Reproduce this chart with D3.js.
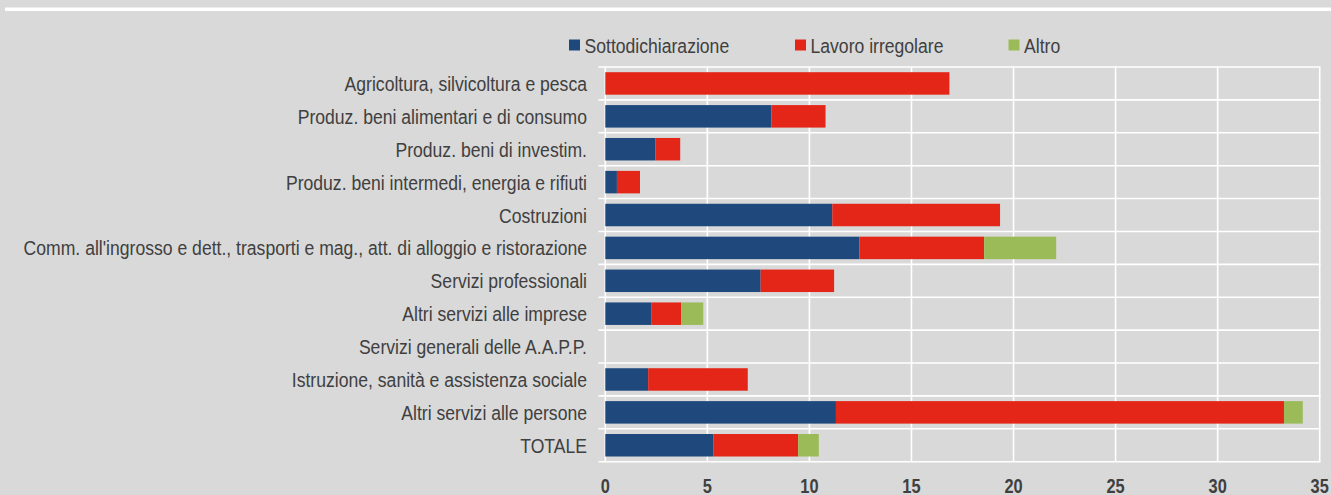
<!DOCTYPE html>
<html>
<head>
<meta charset="utf-8">
<script src="https://cdn.jsdelivr.net/npm/d3@7"></script>
<style>
  html, body { margin: 0; padding: 0; background: #d9d9d9; }
  svg { display: block; }
  text { font-family: "Liberation Sans", Arial, sans-serif; fill: #404040; }
</style>
</head>
<body>
<script>
const categories = [
  "Agricoltura, silvicoltura e pesca",
  "Produz. beni alimentari e di consumo",
  "Produz. beni di investim.",
  "Produz. beni intermedi, energia e rifiuti",
  "Costruzioni",
  "Comm. all'ingrosso e dett., trasporti e mag., att. di alloggio e ristorazione",
  "Servizi professionali",
  "Altri servizi alle imprese",
  "Servizi generali delle A.A.P.P.",
  "Istruzione, sanità e assistenza sociale",
  "Altri servizi alle persone",
  "TOTALE"
];
const seriesNames = ["Sottodichiarazione", "Lavoro irregolare", "Altro"];
const sottodichiarazione = [0, 8.14, 2.46, 0.57, 11.12, 12.45, 7.61, 2.25, 0, 2.10, 11.30, 5.29];
const lavoroIrregolare   = [16.86, 2.65, 1.21, 1.13, 8.22, 6.11, 3.60, 1.47, 0, 4.88, 21.95, 4.16];
const altro              = [0, 0, 0, 0, 0, 3.53, 0, 1.08, 0, 0, 0.92, 1.01];
const xTicks = [0, 5, 10, 15, 20, 25, 30, 35];
const colors = ["#1f497d", "#e42619", "#9bbb59"];

const W = 1331, H = 495;
const NARROW = 0.838; // emulate a narrow typeface
const svg = d3.select("body").append("svg").attr("width", W).attr("height", H);

// top white rule
svg.append("line").attr("x1", 5).attr("x2", W).attr("y1", 9.3).attr("y2", 9.3)
  .attr("stroke", "#ffffff").attr("stroke-width", 3.5);

const x = d3.scaleLinear().domain([0, 35]).range([605.3, 1319.7]);
const y = d3.scaleBand().domain(categories).range([67, 461.7]).paddingInner(0.316).paddingOuter(0.158);

const rows = categories.map((c, i) => ({ cat: c, Sottodichiarazione: sottodichiarazione[i], "Lavoro irregolare": lavoroIrregolare[i], Altro: altro[i] }));
const stacked = d3.stack().keys(seriesNames)(rows);

// vertical gridlines
svg.append("g").selectAll("line").data(xTicks).join("line")
  .attr("x1", d => x(d)).attr("x2", d => x(d))
  .attr("y1", y.range()[0]).attr("y2", y.range()[1])
  .attr("stroke", "#ffffff").attr("stroke-width", 1.6);

// category separators
const step = y.step();
svg.append("g").selectAll("line").data(d3.range(categories.length + 1)).join("line")
  .attr("x1", 598.5).attr("x2", x(35) + 0.8)
  .attr("y1", i => y.range()[0] + i * step).attr("y2", i => y.range()[0] + i * step)
  .attr("stroke", "#ffffff").attr("stroke-width", 1.6);

// bars
svg.append("g").selectAll("g").data(stacked).join("g")
  .attr("fill", (d, i) => colors[i])
  .selectAll("rect").data(d => d).join("rect")
  .attr("x", d => x(d[0]))
  .attr("width", d => Math.max(0, x(d[1]) - x(d[0])))
  .attr("y", d => y(d.data.cat))
  .attr("height", y.bandwidth());

// category labels
svg.append("g").selectAll("text").data(categories).join("text")
  .attr("transform", d => `translate(587,${y(d) + y.bandwidth() / 2}) scale(${NARROW},1)`)
  .attr("dy", "0.36em").attr("text-anchor", "end")
  .style("font-size", "21px")
  .text(d => d);

// x tick labels
svg.append("g").selectAll("text").data(xTicks).join("text")
  .attr("transform", d => `translate(${x(d)},493.3) scale(0.82,1)`)
  .attr("text-anchor", "middle")
  .style("font-size", "20px").style("font-weight", "bold")
  .text(d => d);

// legend
const legendX = [569, 795, 1008.5];
const lg = svg.append("g").selectAll("g").data(seriesNames).join("g")
  .attr("transform", (d, i) => `translate(${legendX[i]},0)`);
lg.append("rect").attr("x", 0).attr("y", 39.5).attr("width", 11).attr("height", 11)
  .attr("fill", (d, i) => colors[i]);
lg.append("text").attr("transform", `translate(15.5,45) scale(${NARROW},1)`).attr("dy", "0.36em")
  .style("font-size", "21px").text(d => d);
</script>
</body>
</html>
